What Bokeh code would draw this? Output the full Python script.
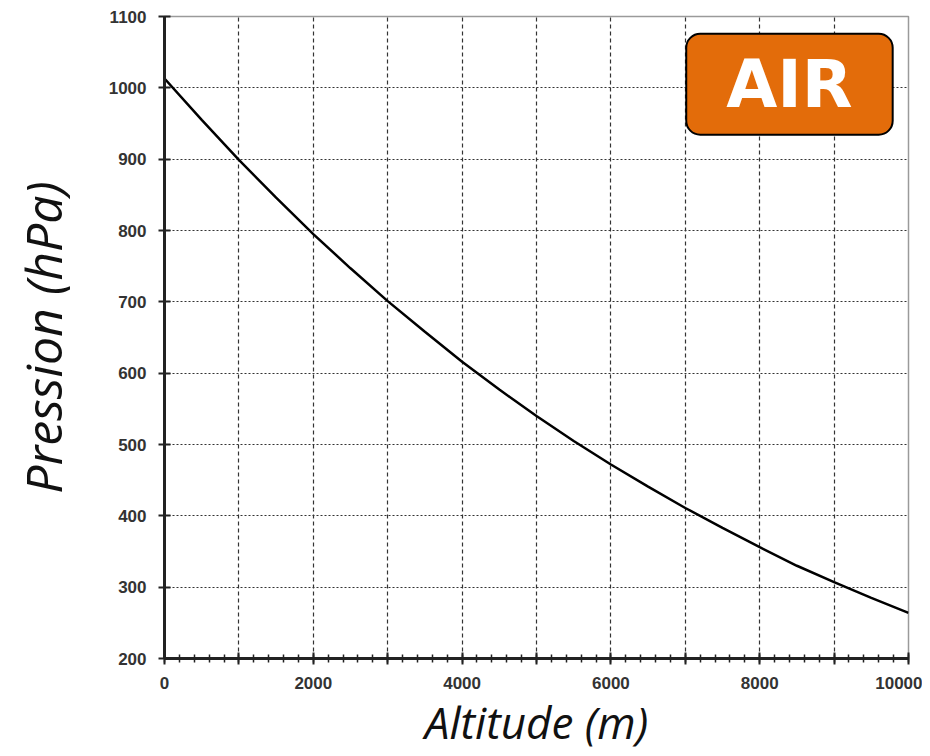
from bokeh.plotting import figure
from bokeh.models import FixedTicker, Label, Range1d
from bokeh.embed import file_html
from bokeh.resources import INLINE

altitude_m = [0, 500, 1000, 1500, 2000, 2500, 3000, 3500, 4000, 4500, 5000,
              5500, 6000, 6500, 7000, 7500, 8000, 8500, 9000, 9500, 10000]
pressure_hpa = [1013, 955, 899, 846, 795, 747, 701, 658, 616, 577, 540,
                505, 472, 441, 411, 383, 356, 330, 307, 285, 264]

x_ticks = list(range(0, 10001, 1000))
x_minor = list(range(0, 10001, 200))
y_ticks = list(range(200, 1101, 100))
x_labels = {t: (str(t) if t % 2000 == 0 else "") for t in x_ticks}

p = figure(width=922, height=756, output_backend="svg", toolbar_location=None,
           x_range=Range1d(0, 10000), y_range=Range1d(200, 1100),
           min_border_left=164, min_border_top=16, min_border_right=14, min_border_bottom=98)
p.background_fill_color = "white"
p.outline_line_color = "#9a9a9a"
p.outline_line_width = 1.5

p.line(altitude_m, pressure_hpa, line_color="black", line_width=2.5)

p.xaxis.ticker = FixedTicker(ticks=x_ticks, minor_ticks=x_minor)
p.xaxis.major_label_overrides = x_labels
p.yaxis.ticker = FixedTicker(ticks=y_ticks)

for ax in (p.xaxis, p.yaxis):
    ax.axis_line_width = 3
    ax.axis_line_color = "#222222"
    ax.major_tick_line_color = "#222222"
    ax.major_tick_line_width = 2
    ax.major_tick_in = 6
    ax.major_tick_out = 6
    ax.major_label_text_font = "Liberation Sans"
    ax.major_label_text_font_style = "bold"
    ax.major_label_text_font_size = "17px"
    ax.major_label_text_color = "#333333"
    ax.axis_label_text_font = "Open Sans"
    ax.axis_label_text_font_style = "italic"
    ax.axis_label_text_color = "#111111"

p.xaxis.minor_tick_line_color = "#222222"
p.xaxis.minor_tick_line_width = 1.5
p.xaxis.minor_tick_in = 4
p.xaxis.minor_tick_out = 4
p.yaxis.minor_tick_line_color = None
p.xaxis.major_label_standoff = 12
p.yaxis.major_label_standoff = 12

p.xaxis.axis_label = "Altitude (m)"
p.xaxis.axis_label_text_font_size = "44px"
p.xaxis.axis_label_standoff = 0
p.yaxis.axis_label = "Pression (hPa)"
p.yaxis.axis_label_text_font_size = "50px"
p.yaxis.axis_label_standoff = 29

p.xgrid.ticker = FixedTicker(ticks=x_ticks)
p.xgrid.grid_line_color = "#333333"
p.xgrid.grid_line_dash = "4 3"
p.xgrid.grid_line_width = 1.2
p.ygrid.ticker = FixedTicker(ticks=y_ticks)
p.ygrid.grid_line_color = "#333333"
p.ygrid.grid_line_dash = "2 2"
p.ygrid.grid_line_width = 1.2

badge = Label(x=8400, y=1005, text="AIR", text_align="center", text_baseline="middle",
              text_font="DejaVu Sans", text_font_style="bold", text_font_size="66px",
              text_color="white", background_fill_color="#E36C0A",
              border_line_color="black", border_line_width=2,
              padding=(40, 12), border_radius=14)
p.add_layout(badge)

open("out.html", "w").write(file_html(p, INLINE))
